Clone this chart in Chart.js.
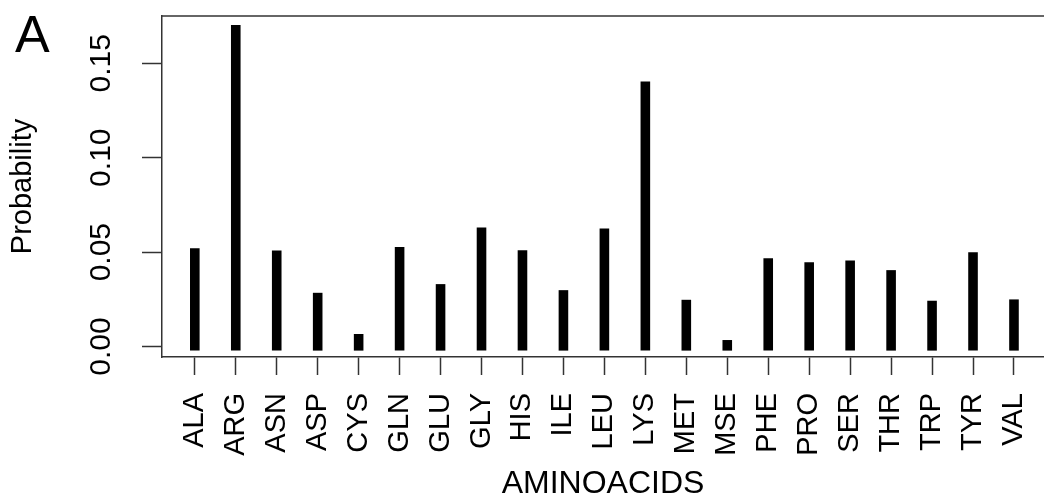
<!DOCTYPE html>
<html>
<head>
<meta charset="utf-8">
<script src="https://cdn.jsdelivr.net/npm/chart.js@4.4.0/dist/chart.umd.min.js"></script>
<style>
  html, body { margin: 0; padding: 0; background: #fff; overflow: hidden; }
  #wrap { position: relative; width: 1044px; height: 497px; }
</style>
</head>
<body>
<div id="wrap"><canvas id="aaChart"></canvas></div>
<script>
// amino acid frequencies
const aminoacids = ["ALA", "ARG", "ASN", "ASP", "CYS", "GLN", "GLU", "GLY", "HIS", "ILE", "LEU",
                    "LYS", "MET", "MSE", "PHE", "PRO", "SER", "THR", "TRP", "TYR", "VAL"];
const probability = [0.0497, 0.1679, 0.0485, 0.0261, 0.0043, 0.0504, 0.0307, 0.0606, 0.0486, 0.0275, 0.0601,
                     0.1379, 0.0224, 0.0011, 0.0444, 0.0423, 0.0432, 0.0381, 0.0219, 0.0476, 0.0226];
const yTicks = [0, 0.05, 0.10, 0.15];

const axisColor = "#333";
const fontFamily = "'Liberation Sans', Arial, Helvetica, sans-serif";

const points = aminoacids.map((name, i) => ({ x: i + 1, y: probability[i] }));

// top border of the plot box and the panel letter
const boxAndLetter = {
    id: "boxAndLetter",
    afterDraw(chart) {
        const { ctx, chartArea } = chart;
        ctx.save();
        ctx.strokeStyle = axisColor;
        ctx.lineWidth = 1.5;
        ctx.beginPath();
        ctx.moveTo(chartArea.left, chartArea.top);
        ctx.lineTo(chartArea.right, chartArea.top);
        ctx.stroke();

        ctx.fillStyle = "#000";
        ctx.font = "52px " + fontFamily;
        ctx.textBaseline = "alphabetic";
        ctx.textAlign = "left";
        ctx.fillText("A", 15, 52);
        ctx.restore();
    }
};

const ctx = document.getElementById("aaChart");

new Chart(ctx, {
    type: "bar",
    data: {
        datasets: [{
            data: points,
            backgroundColor: "#000",
            borderWidth: 0,
            barThickness: 0.6,
            inflateAmount: 4.5
        }]
    },
    options: {
        responsive: true,
        maintainAspectRatio: false,
        animation: false,
        devicePixelRatio: 1,
        layout: { padding: { top: 16, right: 0, bottom: 0, left: 0 } },
        plugins: {
            legend: { display: false },
            tooltip: { enabled: false }
        },
        scales: {
            x: {
                type: "linear",
                offset: false,
                min: 0.199,
                max: 21.733,
                afterBuildTicks(scale) {
                    scale.ticks = aminoacids.map((n, i) => ({ value: i + 1 }));
                },
                afterFit(scale) {
                    scale.height = 140;
                    scale.paddingLeft = 0;
                    scale.paddingRight = 0;
                },
                ticks: {
                    autoSkip: false,
                    minRotation: 90,
                    maxRotation: 90,
                    padding: 18,
                    color: "#000",
                    font: { family: fontFamily, size: 29 },
                    callback: (value) => aminoacids[value - 1]
                },
                grid: {
                    offset: false,
                    drawOnChartArea: false,
                    drawTicks: true,
                    tickLength: 18,
                    tickColor: axisColor,
                    tickWidth: 1.5
                },
                border: { display: true, color: axisColor, width: 1.5 },
                title: {
                    display: true,
                    text: "AMINOACIDS",
                    color: "#000",
                    font: { family: fontFamily, size: 32, lineHeight: 0.8 },
                    padding: { top: 0, bottom: 0 }
                }
            },
            y: {
                type: "linear",
                min: -0.0055,
                max: 0.175,
                afterBuildTicks(scale) {
                    scale.ticks = yTicks.map(v => ({ value: v }));
                },
                afterFit(scale) {
                    scale.width = 162;
                    scale.paddingTop = 0;
                    scale.paddingBottom = 0;
                },
                ticks: {
                    minRotation: 90,
                    maxRotation: 90,
                    crossAlign: "center",
                    padding: 11,
                    color: "#000",
                    font: { family: fontFamily, size: 30 },
                    callback: (value) => value.toFixed(2)
                },
                grid: {
                    drawOnChartArea: false,
                    drawTicks: true,
                    tickLength: 20,
                    tickColor: axisColor,
                    tickWidth: 1.5
                },
                border: { display: true, color: axisColor, width: 1.5 },
                title: {
                    display: true,
                    text: "Probability",
                    color: "#000",
                    font: { family: fontFamily, size: 29, lineHeight: 1.2 },
                    padding: { top: 6, bottom: 0 }
                }
            }
        }
    },
    plugins: [boxAndLetter]
});
</script>
</body>
</html>
